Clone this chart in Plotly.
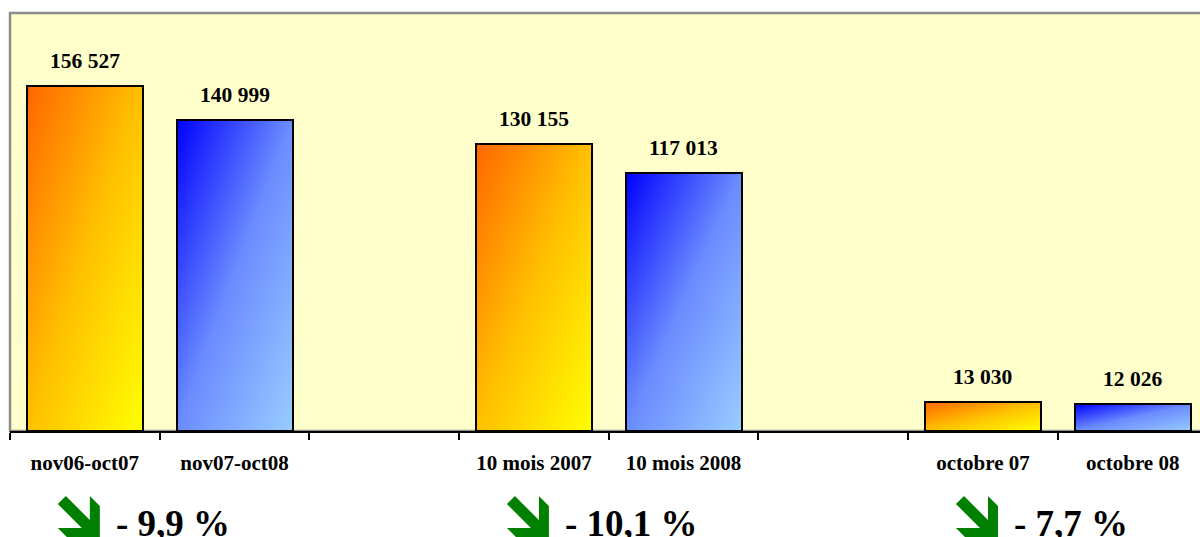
import base64
import plotly.graph_objects as go

# ---------------- data ----------------
categories = ["nov06-oct07", "nov07-oct08", " ", "10 mois 2007", "10 mois 2008", "  ", "octobre 07", "octobre 08"]
values = [156527, 140999, None, 130155, 117013, None, 13030, 12026]
series = ["orange", "blue", None, "orange", "blue", None, "orange", "blue"]
pairs = [(0, 1), (3, 4), (6, 7)]

# ---------------- styles ----------------
FONT = "Liberation Serif, Times New Roman, serif"
BAR_W = 0.775
GRADIENTS = {
    "orange": [("0", "#FF6600"), ("0.5", "#FFC000"), ("1", "#FFFF00")],
    "blue": [("0", "#0000FF"), ("0.5", "#6A8CFF"), ("1", "#99CCFF")],
}


def gradient_uri(stops):
    st = "".join(f'<stop offset="{o}" stop-color="{c}"/>' for o, c in stops)
    svg = (
        '<svg xmlns="http://www.w3.org/2000/svg" width="100" height="100" '
        'viewBox="0 0 1 1" preserveAspectRatio="none">'
        f'<defs><linearGradient id="g" x1="0" y1="0" x2="1" y2="1">{st}</linearGradient></defs>'
        '<rect x="0" y="0" width="1" height="1" fill="url(#g)"/></svg>'
    )
    return "data:image/svg+xml;base64," + base64.b64encode(svg.encode()).decode()


def fmt(v):
    return f"{v:,}".replace(",", " ")


fig = go.Figure()
fig.add_trace(go.Bar(
    x=categories, y=values, width=BAR_W,
    marker=dict(color="rgba(0,0,0,0)", line=dict(color="black", width=2)),
    hoverinfo="skip", showlegend=False,
))

images = []
annotations = []
for i, (v, s) in enumerate(zip(values, series)):
    if v is None:
        continue
    images.append(dict(
        source=gradient_uri(GRADIENTS[s]), xref="x", yref="y",
        x=i - BAR_W / 2, y=v, sizex=BAR_W, sizey=v,
        sizing="stretch", xanchor="left", yanchor="top", layer="below",
    ))
    annotations.append(dict(
        x=i, y=v, xref="x", yref="y", text=f"<b>{fmt(v)}</b>", showarrow=False,
        yanchor="bottom", yshift=11, font=dict(family=FONT, size=21.5, color="black"),
    ))

# arrow icon (pixel path, y up), relative to group centre below the axis
arrow_pts = [(8, 0), (32, 24), (32, 0), (42, 10), (42, 42), (10, 42), (0, 32), (24, 32), (0, 8)]
OX, OY = -27, 65
arrow_path = "M " + " L ".join(f"{OX + px},{-(OY + py)}" for px, py in arrow_pts) + " Z"

shapes = [dict(type="rect", xref="paper", yref="paper", x0=0, x1=1.05, y0=0, y1=1,
               line=dict(color="#8C8C8C", width=2.5), layer="below")]
for a, b in pairs:
    pct = (values[b] / values[a] - 1) * 100
    txt = f"- {abs(pct):.1f} %".replace(".", ",")
    shapes.append(dict(type="path", xref="x", yref="paper", xsizemode="pixel", ysizemode="pixel",
                       xanchor=a, yanchor=0, path=arrow_path, fillcolor="#008000",
                       line=dict(width=0)))
    annotations.append(dict(
        x=a, y=0, xref="x", yref="paper", text=f"<b>{txt}</b>", showarrow=False,
        xanchor="left", yanchor="middle", xshift=29, yshift=-92,
        font=dict(family=FONT, size=37, color="black"),
    ))

fig.update_layout(
    width=1240, height=529,
    margin=dict(l=2, r=8, t=5, b=106),
    paper_bgcolor="white", plot_bgcolor="#FFFFCC",
    bargap=0, images=images, annotations=annotations, shapes=shapes,
    xaxis=dict(type="category", categoryorder="array", categoryarray=categories,
               range=[-0.5, 7.717], tickson="boundaries", ticks="outside", ticklen=7,
               tickwidth=2, tickcolor="black", showline=True, linecolor="black", linewidth=2,
               showgrid=False, zeroline=False, ticklabelstandoff=12,
               tickfont=dict(family=FONT, size=21, color="black", weight="bold")),
    yaxis=dict(range=[0, 189650], visible=False, showgrid=False, zeroline=False),
)

fig.write_html(
    "out.html",
    post_script=(
        "document.documentElement.style.overflow='hidden';"
        "document.body.style.overflow='hidden';"
        "document.body.style.marginRight='0px';"
    ),
)
